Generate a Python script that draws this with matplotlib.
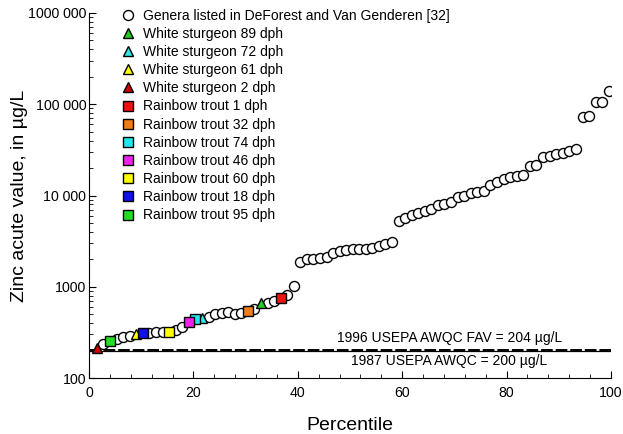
import matplotlib
matplotlib.use("Agg")
import matplotlib.pyplot as plt
from matplotlib.ticker import FixedLocator, FixedFormatter, MultipleLocator, LogLocator, NullFormatter

plt.rcParams['font.family'] = ['Liberation Sans', 'DejaVu Sans']

# Percentile of each ranked point
percentiles = [1.5, 2.7, 4.0, 5.3, 6.5, 7.8, 9.0, 10.3, 11.5, 12.8, 14.1, 15.3, 16.6, 17.8, 19.1,
               20.3, 21.6, 22.9, 24.1, 25.4, 26.6, 27.9, 29.2, 30.4, 31.7, 32.9, 34.2, 35.4, 36.7,
               38.0, 39.2, 40.5, 41.7, 43.0, 44.2, 45.5, 46.8, 48.0, 49.3, 50.5, 51.8, 53.0, 54.3,
               55.6, 56.8, 58.1, 59.3, 60.6, 61.9, 63.1, 64.4, 65.6, 66.9, 68.1, 69.4, 70.7, 71.9,
               73.2, 74.4, 75.7, 76.9, 78.2, 79.5, 80.7, 82.0, 83.2, 84.5, 85.7, 87.0, 88.3, 89.5,
               90.8, 92.0, 93.3, 94.6, 95.8, 97.1, 98.3, 99.6]
# Zinc acute values (ug/L)
values = [214, 234, 256, 266, 278, 289, 301, 309, 314, 317, 317, 319, 332, 365, 414,
          443, 458, 470, 499, 512, 525, 502, 512, 547, 566, 668, 659, 703, 747,
          812, 1028, 1884, 1997, 2014, 2048, 2100, 2362, 2484, 2528, 2572, 2594, 2614, 2680,
          2797, 2940, 3118, 5190, 5660, 6040, 6360, 6770, 7120, 7770, 8070, 8590, 9510, 9880,
          10570, 11010, 11200, 13030, 14170, 15060, 15840, 16370, 16790, 21060, 21580, 26620, 27300, 28500,
          28990, 30970, 32070, 73100, 74300, 106600, 106600, 141000]
# Which group each point belongs to (index into legend_labels)
point_group = [4, 0, 11, 0, 0, 0, 3, 10, 0, 0, 0, 9, 0, 0, 8,
               7, 2, 0, 0, 0, 0, 0, 0, 6, 0, 1, 0, 0, 5,
               0, 0] + [0] * 48

legend_labels = ["Genera listed in DeForest and Van Genderen [32]",
                 "White sturgeon 89 dph", "White sturgeon 72 dph", "White sturgeon 61 dph",
                 "White sturgeon 2 dph", "Rainbow trout 1 dph", "Rainbow trout 32 dph",
                 "Rainbow trout 74 dph", "Rainbow trout 46 dph", "Rainbow trout 60 dph",
                 "Rainbow trout 18 dph", "Rainbow trout 95 dph"]
legend_markers = ["o", "^", "^", "^", "^", "s", "s", "s", "s", "s", "s", "s"]
legend_colors = ["white", "#22cc22", "#33e5e5", "#ffff00", "#d00000", "#ee1111", "#f07d1b",
                 "#22e5ee", "#ee22ee", "#ffff00", "#1010e8", "#22dd22"]

criteria_values = [204, 200]
criteria_labels = ["1996 USEPA AWQC FAV = 204 µg/L", "1987 USEPA AWQC = 200 µg/L"]

ytick_vals = [100, 1000, 10000, 100000, 1000000]
ytick_labels = ["100", "1000", "10 000", "100 000", "1000 000"]

fig = plt.figure(figsize=(6.23, 4.34), dpi=100)
ax = fig.add_axes([89/623, 56/434, 522/623, 365/434])

# criteria lines
ax.axhline(criteria_values[1], color="black", lw=0.9, zorder=1)
ax.axhline(criteria_values[0], color="black", lw=1.4, ls=(0, (6, 1.5)), zorder=1)
ax.text(69, criteria_values[0] * 1.12, criteria_labels[0], ha="center", va="bottom", fontsize=10)
ax.text(69, criteria_values[1] * 0.92, criteria_labels[1], ha="center", va="top", fontsize=10)

for g, (lab, mk, col) in enumerate(zip(legend_labels, legend_markers, legend_colors)):
    xs = [p for p, k in zip(percentiles, point_group) if k == g]
    ys = [v for v, k in zip(values, point_group) if k == g]
    ms = 7.2 if mk == "o" else (7.0 if mk == "s" else 7.5)
    ax.plot(xs, ys, ls="none", marker=mk, markersize=ms, markerfacecolor=col,
            markeredgecolor="black", markeredgewidth=1.0, label=lab, zorder=3 if g else 2)

ax.set_yscale("log")
ax.set_xlim(0, 100)
ax.set_ylim(100, 1000000)
ax.yaxis.set_major_locator(FixedLocator(ytick_vals))
ax.yaxis.set_major_formatter(FixedFormatter(ytick_labels))
ax.yaxis.set_minor_locator(LogLocator(base=10, subs=range(2, 10)))
ax.yaxis.set_minor_formatter(NullFormatter())
ax.xaxis.set_major_locator(MultipleLocator(20))
ax.xaxis.set_minor_locator(MultipleLocator(4))

for s in ["top", "right"]:
    ax.spines[s].set_visible(False)
ax.tick_params(which="both", direction="in", labelsize=10.2)
ax.tick_params(which="major", length=5)
ax.tick_params(which="minor", length=3)
ax.tick_params(axis="x", pad=6)
ax.tick_params(axis="y", pad=2)

ax.set_xlabel("Percentile", fontsize=14, labelpad=4)
ax.set_ylabel("Zinc acute value, in µg/L", fontsize=14, labelpad=4)
ax.yaxis.set_label_coords(-0.117, 0.5)
ax.xaxis.set_label_coords(0.5, -0.108)

leg = ax.legend(loc="upper left", bbox_to_anchor=(0.062, 1.012), frameon=False, fontsize=10,
                handlelength=1.0, handletextpad=0.55, labelspacing=0.3, borderpad=0, borderaxespad=0)

fig.savefig("out.png", dpi=100)
